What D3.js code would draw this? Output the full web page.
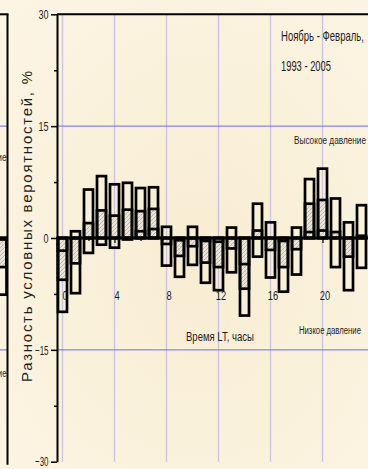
<!DOCTYPE html>
<html>
<head>
<meta charset="utf-8">
<script src="https://cdn.jsdelivr.net/npm/d3@7/dist/d3.min.js"></script>
<style>
  html, body { margin: 0; padding: 0; background: #faf2dc; }
  svg { display: block; }
  text { font-family: "Liberation Sans", Arial, sans-serif; fill: #1e1e1e; }
</style>
</head>
<body>
<script>
// Hour of day, local time
const hours = [0,1,2,3,4,5,6,7,8,9,10,11,12,13,14,15,16,17,18,19,20,21,22,23];
// Difference of conditional probabilities, % — high pressure days
const highPressure = [-1.7, 0.9, 6.5, 8.3, 7.2, 7.4, 6.7, 6.8, 1.5, -0.3, 1.5, -0.4,
                      -0.5, 1.4, -3.5, 4.6, 2.1, -0.4, 1.4, 7.9, 9.3, 5.3, 2.1, 4.4];
// all days (hatched bars)
const allDays = [-5.6, -3.4, 2.0, 3.7, 3.0, 3.8, 3.6, 3.9, -0.8, -2.4, -1.1, -3.3,
                 -3.9, -1.4, -6.8, 1.0, -1.6, -3.9, -1.5, 4.6, 5.1, 0.8, -2.5, 0.3];
// low pressure days
const lowPressure = [-9.9, -7.4, -2.0, -0.9, -1.3, -0.2, 0.9, 1.2, -3.7, -5.2, -3.6, -6.0,
                     -7.0, -4.6, -10.4, -2.5, -5.3, -7.2, -4.9, 0.8, 1.0, -3.9, -7.0, -4.0];

// Neighbouring panel (only its last hour shows at the left edge)
const leftHours = [23];
const leftHigh = [-0.2];
const leftAll = [-3.9];
const leftLow = [-7.6];

const yTicks = [-30, -15, 0, 15, 30];
const yMinorTicks = [-22.5, -7.5, 7.5, 22.5];
const yGrid = [-15, 15];
const xTicks = [0, 4, 8, 12, 16, 20];
const xMinorTicks = [2, 6, 10, 14, 18, 22];

const W = 368, H = 469;
const svg = d3.select("body").append("svg").attr("width", W).attr("height", H);
const defs = svg.append("defs");

// background
const bg = defs.append("radialGradient").attr("id", "bg").attr("cx", "55%").attr("cy", "55%").attr("r", "75%");
bg.append("stop").attr("offset", "0%").attr("stop-color", "#f8edd2");
bg.append("stop").attr("offset", "100%").attr("stop-color", "#fcf5e4");
svg.append("rect").attr("width", W).attr("height", H).attr("fill", "url(#bg)");

// hatch for the all-days bars
const hatch = defs.append("pattern").attr("id", "hatch").attr("patternUnits", "userSpaceOnUse")
  .attr("width", 4).attr("height", 4);
hatch.append("rect").attr("width", 4).attr("height", 4).attr("fill", "#ebe4d6");
hatch.append("path").attr("d", "M-1,1 l2,-2 M0,4 l4,-4 M3,5 l2,-2")
  .attr("stroke", "#aca59c").attr("stroke-width", 0.7);

const plotLeft = 57, plotRight = 368;
const y = d3.scaleLinear().domain([-30, 30]).range([461.7, 14.3]);
const x = d3.scaleLinear().domain([0, 23]).range([62.5, 361.5]);
const xLeft = d3.scaleLinear().domain([0, 23]).range([62.5 - 359.5, 361.5 - 359.5]);
const barW = 9;

// condensed text: squeeze the natural run to a given width
function narrowText(parent, str, px, py, size, width, anchor) {
  const t = parent.append("text").attr("font-size", size).text(str);
  const natural = t.node().getComputedTextLength();
  const sx = width / natural;
  const x0 = anchor === "end" ? px - width : px;
  t.attr("transform", `translate(${x0},${py}) scale(${sx},1)`);
  return t;
}

// ---- neighbouring panel fragment ----
defs.append("clipPath").attr("id", "leftClip").append("rect")
  .attr("x", 0).attr("y", 0).attr("width", 7.5).attr("height", H);
const lp = svg.append("g").attr("clip-path", "url(#leftClip)");
lp.selectAll(".lgrid").data(yGrid).join("line")
  .attr("x1", 0).attr("x2", 8).attr("y1", d => y(d)).attr("y2", d => y(d))
  .attr("stroke", "#8585e8").attr("stroke-width", 1.2);
function drawBars(g, xs, hs, vals, fill) {
  g.selectAll(null).data(hs).join("rect")
    .attr("x", (h) => xs(h) - barW / 2)
    .attr("width", barW)
    .attr("y", (h, i) => Math.min(y(0), y(vals[i])))
    .attr("height", (h, i) => Math.abs(y(vals[i]) - y(0)))
    .attr("fill", fill).attr("stroke", "#000").attr("stroke-width", 2.7);
}
drawBars(lp, xLeft, leftHours, leftAll, "url(#hatch)");
drawBars(lp, xLeft, leftHours, leftHigh, "none");
drawBars(lp, xLeft, leftHours, leftLow, "none");
narrowText(lp, "Высокое давление", 6.5, 161, 11.5, 72, "end");
narrowText(lp, "Низкое давление", 6.5, 377, 11.5, 62, "end");
svg.append("line").attr("x1", 0).attr("x2", 8.5).attr("y1", y(30)).attr("y2", y(30))
  .attr("stroke", "#000").attr("stroke-width", 2);
svg.append("line").attr("x1", 7.5).attr("x2", 7.5).attr("y1", y(30)).attr("y2", y(-30) + 3)
  .attr("stroke", "#000").attr("stroke-width", 2);

// ---- main panel ----
const g = svg.append("g");

// grid
g.selectAll(".vgrid").data(xTicks).join("line")
  .attr("x1", d => x(d)).attr("x2", d => x(d))
  .attr("y1", y(30)).attr("y2", y(-30))
  .attr("stroke", "#cbc4e4").attr("stroke-width", 1.4);
g.selectAll(".hgrid").data(yGrid).join("line")
  .attr("x1", plotLeft).attr("x2", plotRight)
  .attr("y1", d => y(d)).attr("y2", d => y(d))
  .attr("stroke", "#8585e8").attr("stroke-width", 1.2);

// top frame
g.append("line").attr("x1", plotLeft).attr("x2", plotRight)
  .attr("y1", y(30)).attr("y2", y(30)).attr("stroke", "#000").attr("stroke-width", 2);

// x axis along zero
const xAxis = g.append("g").attr("transform", `translate(0,${y(0)})`)
  .call(d3.axisBottom(x).tickValues(xTicks).tickSizeInner(5).tickSizeOuter(0).tickPadding(48));
xAxis.select(".domain").remove();
xAxis.selectAll("line").attr("stroke", "#000").attr("stroke-width", 1.2);
xAxis.selectAll("text").attr("font-size", 13).attr("dx", 2)
  .attr("font-family", "'Liberation Sans', Arial, sans-serif").attr("fill", "#222")
  .attr("textLength", d => String(d).length * 5.2).attr("lengthAdjust", "spacingAndGlyphs");
const xMinor = g.append("g").attr("transform", `translate(0,${y(0)})`)
  .call(d3.axisBottom(x).tickValues(xMinorTicks).tickSizeInner(3).tickSizeOuter(0).tickFormat(""));
xMinor.select(".domain").remove();
xMinor.selectAll("line").attr("stroke", "#000").attr("stroke-width", 1.2);

// bars
const bars = g.append("g");
drawBars(bars, x, hours, allDays, "url(#hatch)");
drawBars(bars, x, hours, highPressure, "none");
drawBars(bars, x, hours, lowPressure, "none");

// zero line
g.append("line").attr("x1", plotLeft).attr("x2", plotRight)
  .attr("y1", y(0)).attr("y2", y(0)).attr("stroke", "#000").attr("stroke-width", 3);

// y axis
const yAxis = g.append("g").attr("transform", `translate(${plotLeft},0)`)
  .call(d3.axisLeft(y).tickValues(yTicks).tickSizeInner(6).tickSizeOuter(0).tickPadding(2.5));
yAxis.select(".domain").attr("stroke", "#000").attr("stroke-width", 2);
yAxis.selectAll("line").attr("stroke", "#000").attr("stroke-width", 1.5);
yAxis.selectAll("text").attr("font-size", 13)
  .attr("font-family", "'Liberation Sans', Arial, sans-serif").attr("fill", "#222")
  .attr("textLength", d => String(d).replace("-", "").length * 5 + (d < 0 ? 3.5 : 0))
  .attr("lengthAdjust", "spacingAndGlyphs");
const yMinor = g.append("g").attr("transform", `translate(${plotLeft},0)`)
  .call(d3.axisLeft(y).tickValues(yMinorTicks).tickSizeInner(3).tickSizeOuter(0).tickFormat(""));
yMinor.select(".domain").remove();
yMinor.selectAll("line").attr("stroke", "#000").attr("stroke-width", 1.5);

// titles and notes
svg.append("text").attr("transform", "translate(31.5,382) rotate(-90)")
  .attr("font-size", 15).attr("fill", "#3a3a3a")
  .attr("textLength", 311).attr("lengthAdjust", "spacing")
  .text("Разность условных вероятностей, %");
narrowText(svg, "Время LT, часы", 186, 341, 13, 68);
narrowText(svg, "Ноябрь - Февраль,", 281, 41, 14, 83);
narrowText(svg, "1993 - 2005", 281, 71, 14, 50);
narrowText(svg, "Высокое давление", 294, 144, 11.5, 72);
narrowText(svg, "Низкое давление", 299, 334, 11.5, 62);
</script>
</body>
</html>
